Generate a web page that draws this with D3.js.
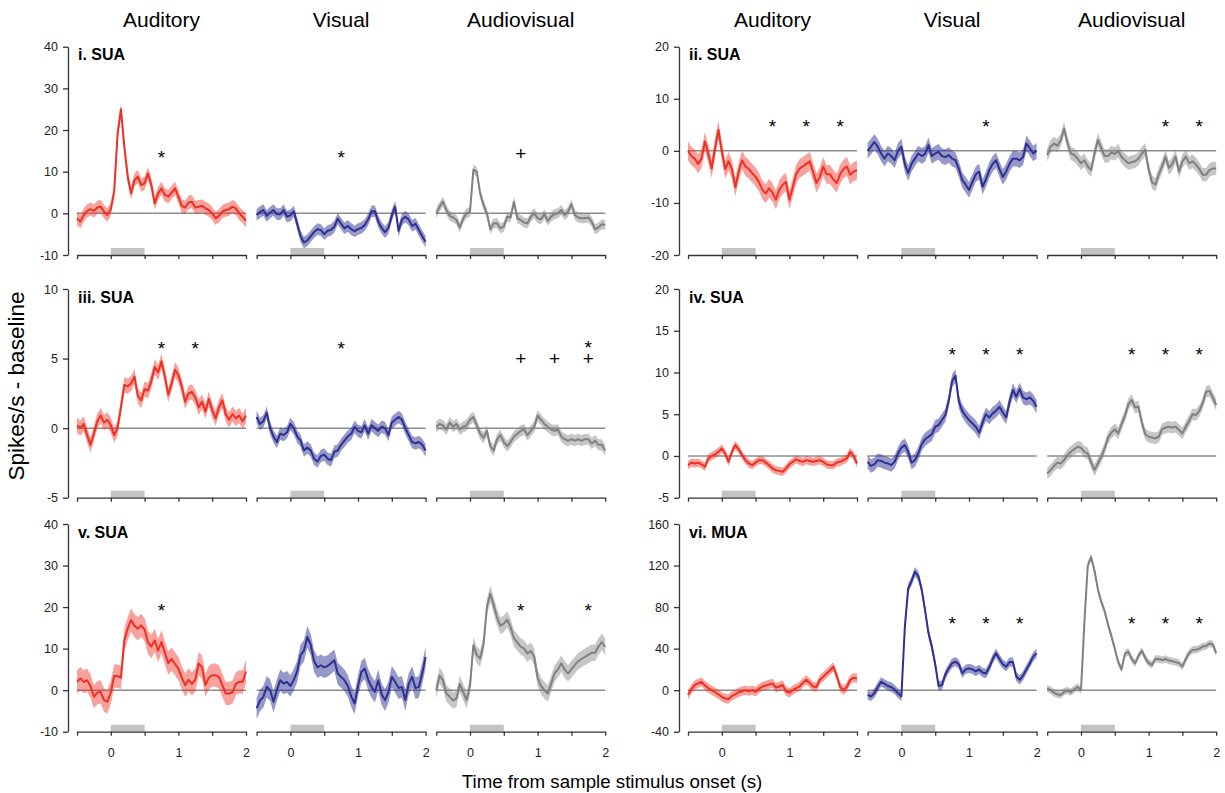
<!DOCTYPE html>
<html>
<head>
<meta charset="utf-8">
<script src="https://cdn.jsdelivr.net/npm/d3@7"></script>
<style>
body { margin: 0; background: #fff; }
svg { display: block; font-family: Arial, "Liberation Sans", sans-serif; }
</style>
</head>
<body>
<div id="canvas"></div>
<script>

// sample times (s)
var timeS = [
  -0.5, -0.45, -0.4, -0.35, -0.3, -0.25, -0.2, -0.15, -0.1, -0.05,
  0, 0.05, 0.1, 0.15, 0.2, 0.25, 0.3, 0.35, 0.4, 0.45,
  0.5, 0.55, 0.6, 0.65, 0.7, 0.75, 0.8, 0.85, 0.9, 0.95,
  1, 1.05, 1.1, 1.15, 1.2, 1.25, 1.3, 1.35, 1.4, 1.45,
  1.5, 1.55, 1.6, 1.65, 1.7, 1.75, 1.8, 1.85, 1.9, 1.95, 2
];

var conditions = ["Auditory", "Visual", "Audiovisual"];
var traceColors = ["#ee3124", "#2e3192", "#808080"];

// i. SUA
var suaIAud = [-1.2, -2.0, -0.4, 0.6, 1.0, 0.6, 1.4, 1.6, 0.4, -0.4,
  1.0, 5.2, 19.0, 25.0, 16.0, 8.8, 4.8, 8.0, 8.8, 6.8,
  7.2, 9.6, 6.8, 2.4, 4.8, 6.0, 4.4, 4.0, 5.0, 6.0,
  4.0, 1.8, 1.4, 2.6, 2.8, 1.4, 1.6, 1.8, 1.2, 0.8,
  0.0, -1.2, -0.6, 0.4, 0.8, 1.0, 1.6, 1.2, 0.0, -0.8, -1.8];
var suaIVis = [-0.4, 0.3, 0.8, -0.6, 0.2, 0.8, -0.2, -0.2, 0.8, -0.8,
  -0.5, 0.5, -2.5, -5.5, -7.0, -6.5, -5.5, -4.5, -3.8, -4.0,
  -5.0, -4.2, -4.0, -3.2, -1.3, -2.5, -3.6, -3.0, -3.8, -4.3,
  -3.8, -3.5, -2.8, -1.5, 0.5, 0.5, -2.0, -3.5, -4.5, -3.5,
  -0.5, 1.6, -4.2, -1.5, -0.8, -1.5, -3.0, -2.5, -4.0, -5.5, -6.8];
var suaIAV = [0.0, 1.6, 2.8, 0.8, -0.6, -1.0, -1.6, -3.4, -1.2, 0.0,
  0.4, 10.5, 10.0, 4.8, 2.0, 0.0, -3.8, -2.4, -2.4, -3.6,
  -3.2, -0.8, -1.0, 2.8, -1.2, -1.6, -2.2, -2.4, -0.8, 0.0,
  -1.2, -1.4, -0.2, -1.8, -0.8, -0.2, 0.0, 0.8, -0.4, 0.4,
  2.2, -0.4, -1.0, -1.2, -1.2, -1.0, -2.0, -3.8, -3.4, -2.6, -2.8];

// ii. SUA
var suaIIAud = [0.0, -1.0, -1.5, -2.5, -1.5, 1.8, -0.5, -3.4, 0.5, 4.0,
  0.0, -3.5, -2.0, -3.5, -7.0, -4.0, -1.8, -3.0, -3.5, -4.3,
  -5.0, -6.0, -7.5, -8.2, -7.2, -8.0, -9.4, -7.5, -6.5, -6.0,
  -9.4, -7.0, -4.5, -3.4, -3.0, -2.5, -2.0, -4.0, -6.2, -5.0,
  -3.0, -4.5, -4.5, -5.5, -6.2, -4.5, -3.5, -3.0, -4.6, -4.0, -3.7];
var suaIIVis = [0.0, 0.8, 1.7, 0.8, -0.5, -1.5, -0.5, -1.0, -1.8, 0.0,
  0.8, -2.5, -4.3, -2.5, -1.5, -0.5, -1.0, -0.6, 1.1, -1.0,
  -0.5, -0.2, -1.0, -1.2, -0.8, -1.5, -1.8, -3.5, -5.6, -6.5,
  -7.5, -6.0, -4.5, -4.0, -6.9, -5.5, -3.7, -2.5, -1.8, -3.5,
  -5.0, -4.0, -2.5, -1.5, -1.5, -1.8, -1.2, 1.4, 0.5, -0.5, 0.0];
var suaIIAV = [-0.8, 0.8, 1.4, 1.0, 2.0, 4.3, 1.5, -0.5, -0.8, -1.5,
  -2.4, -1.8, -3.0, -3.7, -0.5, 2.1, 0.5, -1.0, -1.0, -0.3,
  -0.6, 0.0, -1.2, -1.8, -2.4, -2.2, -2.0, -1.5, -0.5, 0.2,
  -3.5, -6.0, -6.5, -4.5, -3.0, -1.1, -3.3, -2.5, -1.1, -4.0,
  -2.0, -1.1, -2.4, -2.0, -2.6, -3.5, -4.6, -4.6, -3.7, -3.4, -3.4];

// iii. SUA
var suaIIIAud = [0.2, 0.0, 0.3, -0.5, -1.2, -0.4, 0.5, 0.9, 0.4, 0.6,
  0.2, -0.5, 0.0, 1.5, 3.1, 3.0, 3.2, 3.7, 2.3, 2.0,
  2.8, 2.7, 3.4, 4.4, 4.0, 4.8, 3.7, 2.4, 3.2, 4.2,
  3.8, 3.0, 1.9, 2.5, 2.6, 2.2, 1.5, 1.9, 1.2, 2.1,
  1.3, 0.7, 1.5, 2.0, 1.0, 0.6, 1.0, 0.7, 0.9, 0.5, 0.9];
var suaIIIVis = [0.8, 0.3, 0.5, 1.1, 0.0, -0.6, -1.0, -0.4, -0.5, -0.3,
  0.3, 0.0, -0.6, -0.9, -1.6, -1.4, -1.6, -2.2, -2.4, -2.0,
  -1.9, -2.2, -2.3, -1.7, -1.6, -1.2, -0.9, -0.6, -0.4, 0.1,
  -0.2, -0.3, 0.2, -0.4, 0.2, 0.0, -0.2, 0.1, 0.0, -0.5,
  0.4, 0.6, 0.8, 0.6, 0.0, -0.5, -1.0, -1.1, -1.0, -1.2, -1.6];
var suaIIIAV = [0.1, 0.3, 0.2, -0.1, 0.4, 0.1, 0.3, -0.1, 0.1, 0.2,
  0.6, 0.8, 0.2, -0.4, -0.7, -0.2, -1.3, -1.6, -0.8, -0.5,
  -1.0, -1.3, -1.0, -0.6, -0.4, -0.2, -0.1, -0.5, -0.2, 0.1,
  0.9, 0.6, 0.3, 0.1, -0.1, -0.2, -0.1, -0.6, -0.8, -0.9,
  -0.8, -0.9, -0.8, -0.9, -0.8, -0.8, -1.1, -0.9, -1.2, -1.2, -1.6];

// iv. SUA
var suaIVAud = [-1.1, -0.8, -0.9, -0.8, -1.0, -1.3, -0.3, 0.0, 0.2, 0.5,
  0.9, 0.3, -0.7, 0.5, 1.3, 0.8, 0.1, -0.5, -0.9, -1.1,
  -0.8, -0.5, -0.5, -0.8, -1.1, -1.5, -1.7, -1.8, -1.9, -1.5,
  -1.0, -0.7, -0.4, -0.6, -0.7, -0.5, -0.6, -0.7, -0.6, -0.5,
  -0.7, -1.0, -1.1, -1.1, -0.8, -0.7, -0.5, -0.3, 0.5, 0.0, -0.9];
var suaIVVis = [-0.7, -1.2, -1.0, -0.5, -0.6, -0.8, -0.9, -1.1, -0.7, 0.3,
  1.0, 1.3, 0.5, -0.8, -0.5, 0.3, 1.4, 2.0, 2.3, 2.6,
  3.5, 3.7, 4.3, 4.9, 6.6, 9.0, 9.6, 6.5, 5.4, 4.8,
  4.3, 3.9, 3.5, 2.8, 4.0, 5.0, 4.6, 5.1, 5.4, 5.9,
  5.2, 4.6, 6.5, 7.9, 7.1, 8.0, 7.0, 6.8, 7.0, 6.6, 5.9];
var suaIVAV = [-2.1, -1.7, -1.2, -0.8, -0.9, -0.5, 0.1, 0.5, 0.8, 1.1,
  1.0, 0.5, 0.3, -0.8, -1.7, -0.9, -0.1, 0.9, 2.2, 2.8,
  3.2, 2.7, 3.8, 4.8, 6.2, 6.7, 5.8, 5.9, 4.0, 2.6,
  2.3, 2.2, 2.1, 2.3, 3.2, 3.4, 3.5, 3.4, 3.5, 3.1,
  2.7, 3.5, 4.2, 5.0, 4.9, 5.4, 6.3, 7.7, 7.8, 7.0, 6.1];

// v. SUA
var suaVAud = [2.0, 2.8, 2.0, 2.4, 1.0, -1.6, -0.6, -0.4, -2.4, -2.8,
  -0.5, 3.4, 3.4, 3.0, 12.0, 14.8, 16.9, 15.5, 14.8, 15.6,
  14.6, 11.5, 10.5, 12.0, 9.5, 11.6, 9.0, 6.5, 7.5, 6.3,
  5.2, 3.0, 1.2, 2.5, 1.5, 2.5, 6.4, 5.5, 1.2, 3.0,
  3.6, 3.6, 3.2, 1.2, -0.8, -0.8, -0.5, 1.5, 2.0, 2.0, 4.5];
var suaVVis = [-4.4, -2.5, -1.6, 0.8, 0.0, -2.8, 0.0, 2.4, 1.6, 2.0,
  1.0, 2.5, 4.5, 8.4, 9.5, 12.8, 11.0, 7.0, 5.5, 6.0,
  5.5, 5.8, 6.5, 7.2, 4.0, 3.2, 2.4, 1.0, -1.5, -3.2,
  1.0, 4.4, 5.2, 2.5, 0.8, -0.4, 2.4, -1.0, -2.4, -0.5,
  3.2, 2.0, 0.5, 0.8, -2.4, 1.5, 3.2, 0.5, 0.8, 4.0, 8.0];
var suaVAV = [0.0, 3.5, 2.4, -0.8, -1.6, -2.5, -2.0, 1.5, -0.5, -2.4,
  1.0, 10.8, 8.5, 7.6, 11.0, 20.0, 23.2, 20.5, 17.5, 15.5,
  16.0, 17.0, 15.2, 12.5, 11.5, 10.5, 10.0, 8.8, 9.5, 8.0,
  3.0, 1.0, 0.0, -0.8, 1.5, 4.0, 5.0, 6.4, 5.0, 4.0,
  5.0, 6.0, 7.0, 7.5, 8.0, 8.5, 9.0, 9.0, 10.5, 11.6, 10.4];

// vi. MUA
var muaVIAud = [-4.5, 1.0, 5.0, 6.5, 8.0, 4.5, 2.0, 0.0, -2.0, -4.0,
  -6.5, -8.0, -8.5, -5.5, -4.0, -2.0, -1.0, 0.0, -1.0, 0.0,
  -1.5, 1.5, 3.5, 4.5, 5.5, 6.5, 2.5, 3.5, 5.0, -1.0,
  -2.5, 0.0, 2.0, 3.5, 7.0, 10.0, 7.0, 3.5, 3.0, 10.0,
  13.0, 16.0, 19.0, 22.5, 14.0, 3.0, 0.0, 3.0, 10.0, 12.0, 11.5];
var muaVIVis = [-4.5, -6.0, -3.0, 3.0, 8.0, 6.0, 4.0, 3.0, 0.5, -3.0,
  -6.0, 60.0, 98.0, 105.0, 114.0, 110.0, 97.0, 77.0, 55.0, 42.0,
  25.0, 4.0, 5.0, 15.0, 21.0, 25.9, 27.5, 25.0, 16.3, 20.0,
  21.0, 20.0, 18.0, 20.0, 17.0, 16.0, 22.0, 30.0, 35.6, 30.0,
  25.0, 22.7, 27.0, 27.0, 13.0, 9.9, 14.0, 20.0, 26.0, 32.3, 35.6];
var muaVIAV = [1.8, 0.0, -2.5, -4.0, -4.6, -1.5, -0.5, -2.0, 1.0, 3.0,
  0.0, 65.0, 120.0, 128.0, 115.0, 97.0, 85.0, 76.0, 63.0, 52.0,
  40.0, 27.0, 20.0, 35.0, 37.0, 30.0, 25.9, 33.0, 38.0, 31.0,
  26.0, 24.5, 30.0, 30.0, 29.0, 30.0, 28.5, 28.0, 27.0, 26.0,
  22.7, 30.0, 36.0, 38.7, 39.0, 40.0, 42.0, 42.5, 45.0, 44.0, 35.6];

// half width of the shaded error band (aud, vis, av)
var semI = [1.6, 1.4, 1.2];
var semII = [1.8, 1.5, 1.3];
var semIII = [0.55, 0.45, 0.4];
var semIV = [0.5, 0.8, 0.7];
var semV = [2.8, 2.6, 2.0];
var semVI = [4.5, 4.5, 3.5];

// y tick labels
var yTicksI = [-10, 0, 10, 20, 30, 40];
var yTicksII = [-20, -10, 0, 10, 20];
var yTicksIII = [-5, 0, 5, 10];
var yTicksIV = [-5, 0, 5, 10, 15, 20];
var yTicksV = [-10, 0, 10, 20, 30, 40];
var yTicksVI = [-40, 0, 40, 80, 120, 160];
var xTicks = [-0.5, 0, 0.5, 1, 1.5, 2];

// significance marks: [time, symbol, height] per condition
var marksI = [[[0.75, "*", 14.5]], [[0.75, "*", 14.5]], [[0.75, "+", 14.5]]];
var marksII = [[[0.75, "*", 5.6], [1.25, "*", 5.6], [1.75, "*", 5.6]],
  [[1.25, "*", 5.6]], [[1.25, "*", 5.6], [1.75, "*", 5.6]]];
var marksIII = [[[0.75, "*", 6.0], [1.25, "*", 6.0]], [[0.75, "*", 6.0]],
  [[0.75, "+", 5.0], [1.25, "+", 5.0], [1.75, "+", 5.0], [1.75, "*", 6.1]]];
var marksIV = [[], [[0.75, "*", 12.7], [1.25, "*", 12.7], [1.75, "*", 12.7]],
  [[0.75, "*", 12.7], [1.25, "*", 12.7], [1.75, "*", 12.7]]];
var marksV = [[[0.75, "*", 20.3]], [], [[0.75, "*", 20.3], [1.75, "*", 20.3]]];
var marksVI = [[], [[0.75, "*", 68.5], [1.25, "*", 68.5], [1.75, "*", 68.5]],
  [[0.75, "*", 68.5], [1.25, "*", 68.5], [1.75, "*", 68.5]]];

var units = [
  {label: "i. SUA", col: 0, row: 0, domain: [-10, 40], ticks: yTicksI, series: [suaIAud, suaIVis, suaIAV], sem: semI, marks: marksI},
  {label: "ii. SUA", col: 1, row: 0, domain: [-20, 20], ticks: yTicksII, series: [suaIIAud, suaIIVis, suaIIAV], sem: semII, marks: marksII},
  {label: "iii. SUA", col: 0, row: 1, domain: [-5, 10], ticks: yTicksIII, series: [suaIIIAud, suaIIIVis, suaIIIAV], sem: semIII, marks: marksIII},
  {label: "iv. SUA", col: 1, row: 1, domain: [-5, 20], ticks: yTicksIV, series: [suaIVAud, suaIVVis, suaIVAV], sem: semIV, marks: marksIV},
  {label: "v. SUA", col: 0, row: 2, domain: [-10, 40], ticks: yTicksV, series: [suaVAud, suaVVis, suaVAV], sem: semV, marks: marksV},
  {label: "vi. MUA", col: 1, row: 2, domain: [-40, 160], ticks: yTicksVI, series: [muaVIAud, muaVIVis, muaVIAV], sem: semVI, marks: marksVI}
];

// layout
var width = 1225, height = 793;
var colLeft = [77, 688];
var axisX = [68, 679];
var panelW = 169, panelStep = 179.6;
var rowTop = [46.7, 289, 524];
var rowBot = [255, 497.7, 731.7];
var tickFont = 12.5, markFont = 19;

var svg = d3.select("#canvas").append("svg")
  .attr("width", width)
  .attr("height", height);

units.forEach(function (u) {
  var top = rowTop[u.row], bot = rowBot[u.row];
  var y = d3.scaleLinear().domain(u.domain).range([bot, top]);

  var yAxis = svg.append("g")
    .attr("transform", "translate(" + axisX[u.col] + ",0)")
    .call(d3.axisLeft(y).tickValues(u.ticks).tickSize(5).tickSizeOuter(0).tickPadding(5)
      .tickFormat(function (d) { return String(d); }));
  yAxis.selectAll("path, line").attr("stroke", "#333").attr("stroke-width", 1.3);
  yAxis.selectAll("text").attr("font-family", "Arial, 'Liberation Sans', sans-serif")
    .attr("font-size", tickFont).attr("fill", "#222");

  svg.append("text")
    .attr("x", colLeft[u.col] + 1)
    .attr("y", top + 13.5)
    .attr("font-size", 16)
    .attr("font-weight", "bold")
    .text(u.label);

  conditions.forEach(function (cond, k) {
    var x0 = colLeft[u.col] + k * panelStep;
    var x = d3.scaleLinear().domain([-0.5, 2]).range([x0, x0 + panelW]);
    var vals = u.series[k];
    var sem = u.sem[k];
    var g = svg.append("g");

    if (u.row === 0) {
      svg.append("text")
        .attr("x", x0 + panelW / 2)
        .attr("y", 27)
        .attr("text-anchor", "middle")
        .attr("font-size", 21)
        .text(cond);
    }

    // sample stimulus bar
    g.append("rect")
      .attr("x", x(0))
      .attr("y", bot - 7)
      .attr("width", x(0.5) - x(0))
      .attr("height", 7)
      .attr("fill", "#c3c3c3");

    var xAxis = g.append("g")
      .attr("transform", "translate(0," + bot + ")")
      .call(d3.axisBottom(x).tickValues(xTicks).tickSize(4).tickSizeOuter(0).tickPadding(12)
        .tickFormat(function (d) { return (u.row === 2 && Number.isInteger(d)) ? String(d) : ""; }));
    xAxis.selectAll("path, line").attr("stroke", "#333").attr("stroke-width", 1.3);
    xAxis.selectAll("text").attr("font-family", "Arial, 'Liberation Sans', sans-serif")
      .attr("font-size", tickFont).attr("fill", "#222");

    g.append("line")
      .attr("x1", x(-0.5)).attr("x2", x(2))
      .attr("y1", y(0)).attr("y2", y(0))
      .attr("stroke", "#8c8c8c")
      .attr("stroke-width", 1.5);

    var band = d3.area()
      .x(function (d, i) { return x(timeS[i]); })
      .y0(function (d) { return y(d - sem); })
      .y1(function (d) { return y(d + sem); });
    g.append("path")
      .datum(vals)
      .attr("d", band)
      .attr("fill", traceColors[k])
      .attr("fill-opacity", k === 1 ? 0.5 : 0.45);

    var line = d3.line()
      .x(function (d, i) { return x(timeS[i]); })
      .y(function (d) { return y(d); });
    g.append("path")
      .datum(vals)
      .attr("d", line)
      .attr("fill", "none")
      .attr("stroke", traceColors[k])
      .attr("stroke-width", 2)
      .attr("stroke-linejoin", "round");

    // the glyph centre sits on the mark height
    g.selectAll("text.mark")
      .data(u.marks[k]).enter()
      .append("text")
      .attr("class", "mark")
      .attr("x", function (d) { return x(d[0]); })
      .attr("y", function (d) { return y(d[2]) + (d[1] === "*" ? 0.57 : 0.35) * markFont; })
      .attr("text-anchor", "middle")
      .attr("font-size", markFont)
      .text(function (d) { return d[1]; });
  });
});

svg.append("text")
  .attr("transform", "translate(24,386) rotate(-90)")
  .attr("text-anchor", "middle")
  .attr("font-size", 22.5)
  .text("Spikes/s - baseline");

svg.append("text")
  .attr("x", 612)
  .attr("y", 788)
  .attr("text-anchor", "middle")
  .attr("font-size", 18.7)
  .text("Time from sample stimulus onset (s)");

</script>
</body>
</html>
